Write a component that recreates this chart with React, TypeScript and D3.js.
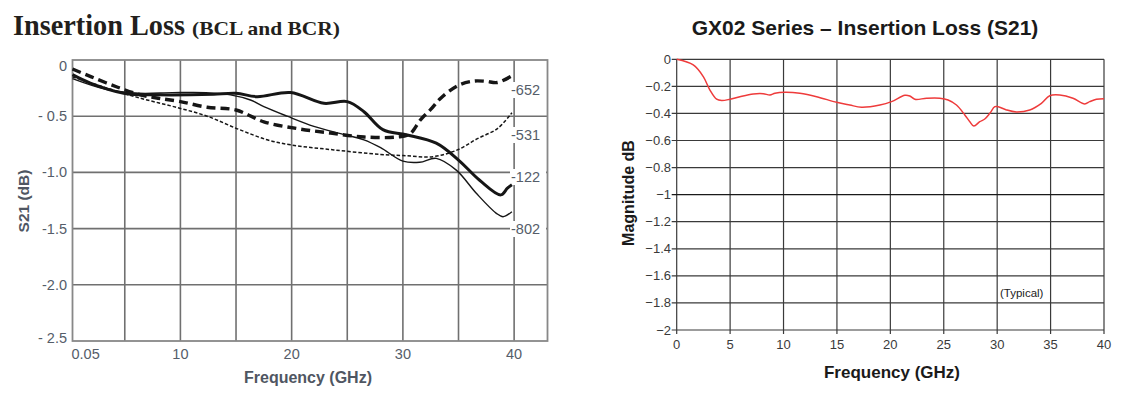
import React from "react";
import * as d3 from "d3";

// ---------- Left chart data (BCL and BCR) ----------
const leftXTicks = [0.3, 10, 20, 30, 40];
const leftXTickLabels = ["0.05", "10", "20", "30", "40"];
const leftXGrid = [5, 10, 15, 20, 25, 30, 35, 40];
const leftYTicks = [0, -0.5, -1.0, -1.5, -2.0, -2.5];
const leftYTickLabels = ["0", "- 0.5", "-1.0", "-1.5", "-2.0", "- 2.5"];

const series652: [number, number][] = [
  [0.3, -0.08], [2, -0.15], [4.3, -0.24], [6.4, -0.31], [8, -0.34], [10, -0.37],
  [12.4, -0.42], [15, -0.445], [17.5, -0.55], [20.5, -0.61], [23.5, -0.65],
  [26.5, -0.685], [29.5, -0.685], [30.6, -0.66], [31.6, -0.53], [32.5, -0.44],
  [33.4, -0.34], [35, -0.225], [36.4, -0.187], [37.5, -0.19], [38.5, -0.2], [40, -0.13],
];
const series531: [number, number][] = [
  [0.3, -0.15], [3.4, -0.25], [6.4, -0.34], [9.4, -0.415], [12.4, -0.5], [15.2, -0.615],
  [17.8, -0.71], [19.9, -0.755], [23.8, -0.8], [28, -0.84], [30, -0.85], [32.7, -0.86],
  [34.9, -0.8], [36.7, -0.7], [38.5, -0.61], [39.8, -0.47],
];
const series122: [number, number][] = [
  [0.3, -0.13], [1.9, -0.205], [4.9, -0.295], [7.9, -0.31], [10.9, -0.31], [13, -0.305],
  [15, -0.296], [16.9, -0.326], [19.9, -0.29], [22.9, -0.385], [25, -0.37], [26.5, -0.46],
  [28.2, -0.62], [30.3, -0.665], [33, -0.74], [35, -0.89], [36.9, -1.07], [38.8, -1.2],
  [39.4, -1.14], [39.8, -1.11],
];
const series802: [number, number][] = [
  [0.3, -0.165], [3.3, -0.26], [6.3, -0.296], [9.3, -0.29], [12.3, -0.29], [14.5, -0.31],
  [16.3, -0.356], [17.5, -0.415], [19.6, -0.5], [22, -0.59], [24.4, -0.655], [26.5, -0.71],
  [28, -0.78], [30, -0.9], [31.5, -0.91], [33, -0.875], [34.8, -0.98], [36.6, -1.186],
  [38.4, -1.364], [39, -1.394], [39.8, -1.35],
];
const leftSeriesNames = ["-652", "-531", "-122", "-802"];

// ---------- Right chart data (GX02) ----------
const rightXTicks = [0, 5, 10, 15, 20, 25, 30, 35, 40];
const rightYTicks = [0, -0.2, -0.4, -0.6, -0.8, -1, -1.2, -1.4, -1.6, -1.8, -2];
const gx02Freq = [
  0, 1.55, 2.49, 3.11, 3.74, 4.21, 4.99, 5.92, 7.17, 8.1, 8.73, 9.2, 10.13, 11.53, 13.1,
  14.97, 16.2, 17.3, 19.02, 20.11, 21.36, 21.82, 22.29, 23.39, 24.63, 25.41, 26.19, 26.97,
  27.44, 27.81, 28.37, 28.84, 29.31, 29.78, 30.09, 30.87, 31.8, 33.05, 34.14, 34.92, 35.86,
  37.1, 38.2, 38.66, 39.29, 40,
];
const gx02Mag = [
  0, -0.042, -0.128, -0.227, -0.295, -0.305, -0.295, -0.276, -0.256, -0.254, -0.264, -0.251,
  -0.244, -0.251, -0.276, -0.318, -0.338, -0.354, -0.338, -0.313, -0.266, -0.271, -0.295,
  -0.288, -0.288, -0.301, -0.338, -0.411, -0.461, -0.493, -0.461, -0.441, -0.399, -0.35,
  -0.35, -0.374, -0.389, -0.374, -0.325, -0.269, -0.264, -0.288, -0.33, -0.313, -0.295, -0.291,
];

export default function App() {
  // Left scales
  const lx = d3.scaleLinear().domain([0.3, 43]).range([72.5, 547.5]);
  const ly = d3.scaleLinear().domain([0, -2.5]).range([60, 341]);
  const lline = d3
    .line<[number, number]>()
    .x((d) => lx(d[0]))
    .y((d) => ly(d[1]))
    .curve(d3.curveCatmullRom.alpha(0.5));

  // Right scales
  const rx = d3.scaleLinear().domain([0, 40]).range([676.7, 1104]);
  const ry = d3.scaleLinear().domain([0, -2]).range([59.3, 330]);
  const rline = d3
    .line<number>()
    .x((_, i) => rx(gx02Freq[i]))
    .y((d) => ry(d))
    .curve(d3.curveCatmullRom.alpha(0.5));

  const gridC = "#707070";
  const lblC = "#555d69";
  const leftSeries = [
    { d: series652, w: 3.4, dash: "9,5" },
    { d: series531, w: 1.5, dash: "3.5,2" },
    { d: series122, w: 3, dash: undefined },
    { d: series802, w: 1.4, dash: undefined },
  ];
  const labelY = [90, 135, 177, 229];
  const yLblShift = [6, 0, 0, 0, 0, -3];

  return (
    <svg
      width={1125}
      height={394}
      style={{ position: "absolute", left: 0, top: 0, background: "#fff" }}
      fontFamily="Liberation Sans, Arial, sans-serif"
    >
      {/* ================= LEFT CHART ================= */}
      <text x={13} y={35} fontFamily="Liberation Serif, Times New Roman, serif" fontSize={29}
        fill="#231f1c" fontWeight="bold" textLength={172} lengthAdjust="spacingAndGlyphs">
        Insertion Loss
      </text>
      <text x={192} y={35} fontFamily="Liberation Serif, Times New Roman, serif" fontSize={19}
        fill="#231f1c" fontWeight="bold" textLength={148} lengthAdjust="spacingAndGlyphs">
        (BCL and BCR)
      </text>

      {/* grid */}
      {leftXGrid.map((v) => (
        <line key={"lvx" + v} x1={lx(v)} x2={lx(v)} y1={ly(0)} y2={ly(-2.5)} stroke={gridC} strokeWidth={1.6} />
      ))}
      {[-0.5, -1.0, -1.5, -2.0].map((v) => (
        <line key={"lhy" + v} x1={lx(0.3)} x2={lx(43)} y1={ly(v)} y2={ly(v)} stroke={gridC} strokeWidth={1.6} />
      ))}
      <rect x={lx(0.3)} y={ly(0)} width={lx(43) - lx(0.3)} height={ly(-2.5) - ly(0)} fill="none" stroke="#888" strokeWidth={1.8} />

      {/* series labels with white boxes */}
      {leftSeriesNames.map((n, i) => (
        <g key={n}>
          <rect x={510} y={labelY[i] - 8} width={36} height={16} fill="#fff" />
          <text x={511} y={labelY[i] + 5} fontSize={14.5} fill={lblC}>{n}</text>
        </g>
      ))}

      {/* curves */}
      {leftSeries.map((s, i) => (
        <path key={"ls" + i} d={lline(s.d) || ""} fill="none" stroke="#161616" strokeWidth={s.w}
          strokeDasharray={s.dash} strokeLinejoin="round" />
      ))}

      {/* y tick labels */}
      {leftYTicks.map((v, i) => (
        <text key={"lyt" + i} x={67} y={ly(v) + 5 + yLblShift[i]} fontSize={14.5}
          fill={lblC} textAnchor="end">{leftYTickLabels[i]}</text>
      ))}
      {/* x tick labels */}
      {leftXTicks.map((v, i) => (
        <text key={"lxt" + i} x={i === 0 ? lx(v) - 1 : lx(v)} y={359} fontSize={14.5} fill={lblC}
          textAnchor={i === 0 ? "start" : "middle"}>{leftXTickLabels[i]}</text>
      ))}
      <text x={308} y={383} fontSize={16} fontWeight="bold" fill="#4f5662" textAnchor="middle">Frequency (GHz)</text>
      <text transform="translate(29,201) rotate(-90)" fontSize={15.5} fontWeight="bold" fill="#4f5662" textAnchor="middle">S21 (dB)</text>

      {/* ================= RIGHT CHART ================= */}
      <text x={865} y={35} fontSize={21} fontWeight="bold" fill="#1a1a1a" textAnchor="middle">
        GX02 Series – Insertion Loss (S21)
      </text>
      {rightXTicks.map((v) => (
        <line key={"rvx" + v} x1={rx(v)} x2={rx(v)} y1={ry(0)} y2={ry(-2) + 4} stroke="#3a3a3a" strokeWidth={1.2} />
      ))}
      {rightYTicks.map((v) => (
        <line key={"rhy" + v} x1={rx(0) - 5} x2={rx(40)} y1={ry(v)} y2={ry(v)} stroke={v === -1 ? "#1a1a1a" : "#3a3a3a"} strokeWidth={1.2} />
      ))}
      {rightYTicks.map((v) => (
        <text key={"ryt" + v} x={671} y={ry(v) + 4.5} fontSize={13} fill="#3a3a3a" textAnchor="end">
          {d3.format("")(+v.toFixed(1))}
        </text>
      ))}
      {rightXTicks.map((v) => (
        <text key={"rxt" + v} x={rx(v)} y={349} fontSize={13} fill="#3a3a3a" textAnchor="middle">{v}</text>
      ))}
      <rect x={1000} y={285} width={48} height={15} fill="#fff" />
      <text x={1000} y={297} fontSize={11.5} fill="#222">(Typical)</text>
      <path d={rline(gx02Mag) || ""} fill="none" stroke="#ee3b3b" strokeWidth={1.5} />
      <text x={892} y={378} fontSize={17} fontWeight="bold" fill="#1a1a1a" textAnchor="middle">Frequency (GHz)</text>
      <text transform="translate(634,193) rotate(-90)" fontSize={16} fontWeight="bold" fill="#1a1a1a" textAnchor="middle">Magnitude dB</text>
    </svg>
  );
}
